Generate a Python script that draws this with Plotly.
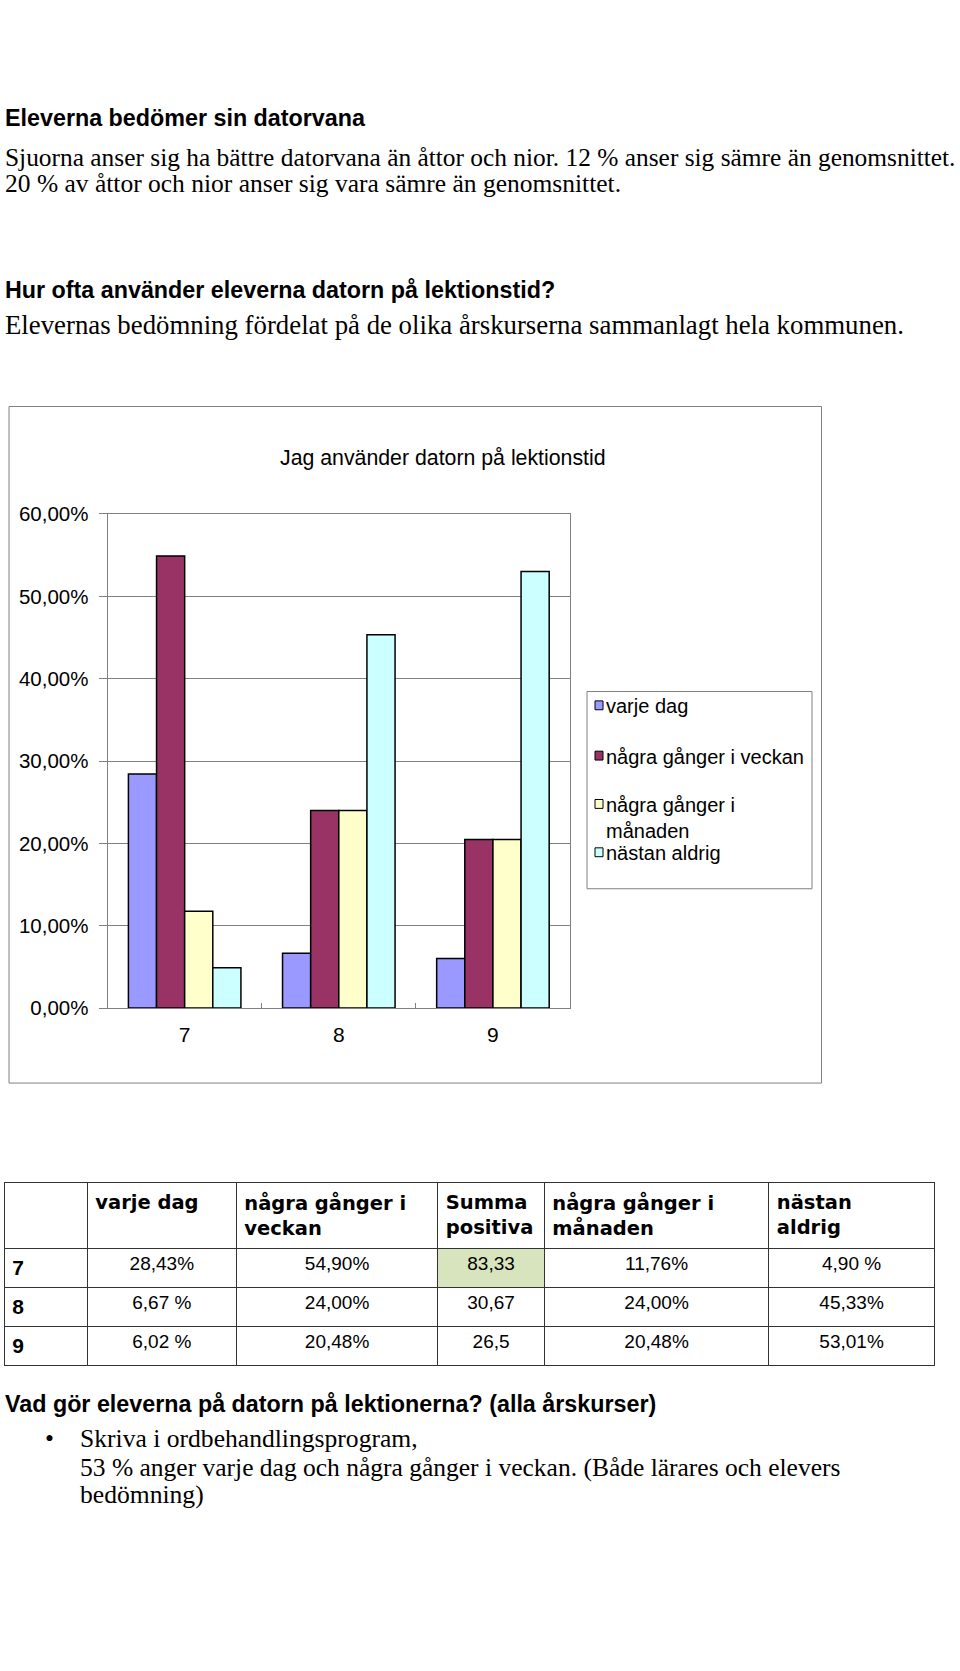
#---------------------------------------------------------------------
# Jag använder datorn på lektionstid
#---------------------------------------------------------------------

import plotly.graph_objects as go

#---------------------------------------------------------------------
# Data
#---------------------------------------------------------------------

arskurs = ['7', '8', '9']
serier = ['varje dag', 'några gånger i veckan', 'några gånger i månaden', 'nästan aldrig']
varje_dag = [28.43, 6.67, 6.02]
ganger_veckan = [54.90, 24.00, 20.48]
ganger_manaden = [11.76, 24.00, 20.48]
nastan_aldrig = [4.90, 45.33, 53.01]
y_ticks = [0, 10, 20, 30, 40, 50, 60]
y_ticktext = [f'{v:.2f}'.replace('.', ',') + '%' for v in y_ticks]

legend_text = ['varje dag', 'några gånger i veckan', 'några gånger i<br>månaden', 'nästan aldrig']

tabell_rubriker = ['', '<br>varje dag', 'några gånger i<br>veckan', 'Summa<br>positiva',
                   'några gånger i<br>månaden', 'nästan<br>aldrig']
kol_arskurs = ['<b>7</b>', '<b>8</b>', '<b>9</b>']
kol_varje_dag = ['28,43%', '6,67 %', '6,02 %']
kol_veckan = ['54,90%', '24,00%', '20,48%']
kol_summa = ['83,33', '30,67', '26,5']
kol_manaden = ['11,76%', '24,00%', '20,48%']
kol_aldrig = ['4,90 %', '45,33%', '53,01%']

#---------------------------------------------------------------------
# Layout helpers (pixel -> paper)
#---------------------------------------------------------------------

W, H = 960, 1671
SANS = 'Liberation Sans'
SERIF = 'Liberation Serif'
GRAY = '#808080'

def px(x):
    return x / W

def py(y):
    return 1 - y / H

farger = ['#9999FF', '#993366', '#FFFFCC', '#CCFFFF']

#---------------------------------------------------------------------
# Figur
#---------------------------------------------------------------------

fig = go.Figure()

for namn, varden, farg in zip(serier, [varje_dag, ganger_veckan, ganger_manaden, nastan_aldrig], farger):
    fig.add_trace(go.Bar(
        x=arskurs, y=varden, name=namn,
        marker=dict(color=farg, line=dict(color='black', width=1.5)),
        showlegend=False
    ))

fig.add_trace(go.Table(
    domain=dict(x=[px(4.3), px(934.5)], y=[py(1375), py(1187)]),
    columnwidth=[83, 149, 201.5, 106.5, 224.5, 165.5],
    header=dict(
        values=tabell_rubriker,
        align='left', height=61,
        fill=dict(color='white'),
        line=dict(color='#333333', width=1),
        font=dict(family='DejaVu Sans', size=19.5, color='black', weight='bold')
    ),
    cells=dict(
        values=[kol_arskurs, kol_varje_dag, kol_veckan, kol_summa, kol_manaden, kol_aldrig],
        align=['left', 'center', 'center', 'center', 'center', 'center'],
        height=31,
        fill=dict(color=[['white'] * 3, ['white'] * 3, ['white'] * 3,
                         ['#D7E4BD', 'white', 'white'], ['white'] * 3, ['white'] * 3]),
        line=dict(color='#333333', width=1),
        font=dict(family=SANS, size=[21, 19, 19, 19, 19, 19], color='black')
    )
))

fig.update_layout(
    width=W, height=H,
    margin=dict(l=0, r=0, t=0, b=0),
    paper_bgcolor='white', plot_bgcolor='white',
    bargap=0.27, bargroupgap=0,
    barmode='group',
    xaxis=dict(
        domain=[px(107.6), px(570)],
        showline=True, linecolor=GRAY, mirror=True,
        ticks='inside', tickson='boundaries', ticklen=5, tickcolor=GRAY,
        ticklabelstandoff=8,
        tickfont=dict(family=SANS, size=21, color='black'),
        showgrid=False
    ),
    yaxis=dict(
        domain=[py(1010), py(509)],
        range=[0, 60], tickvals=y_ticks, ticktext=y_ticktext,
        showline=True, linecolor=GRAY, mirror=True,
        ticks='outside', ticklen=8, tickcolor=GRAY,
        ticklabelstandoff=6,
        gridcolor=GRAY, gridwidth=1, zeroline=False,
        tickfont=dict(family=SANS, size=20.5, color='black')
    )
)

# Diagramram
fig.add_shape(type='rect', xref='paper', yref='paper',
              x0=px(9), x1=px(821.5), y0=py(1086), y1=py(400),
              line=dict(color=GRAY, width=1))

fig.add_annotation(text='Jag använder datorn på lektionstid', x=px(443), y=py(438),
                   xref='paper', yref='paper', showarrow=False,
                   font=dict(family=SANS, size=21.3, color='black'))

# Teckenförklaring
fig.add_shape(type='rect', xref='paper', yref='paper',
              x0=px(587), x1=px(812), y0=py(889), y1=py(689),
              line=dict(color=GRAY, width=1))
legend_y = [703, 754, 803, 852]
for text, farg, y in zip(legend_text, farger, legend_y):
    fig.add_shape(type='rect', xref='paper', yref='paper',
                  x0=px(595), x1=px(603), y0=py(y + 4.5), y1=py(y - 4.5),
                  fillcolor=farg, line=dict(color='black', width=1))
    fig.add_annotation(text=text, x=px(604), y=py(y - 12), xref='paper', yref='paper',
                       xanchor='left', yanchor='top', align='left', showarrow=False,
                       font=dict(family=SANS, size=20, color='black'))

# Brödtext
texter = [
    ('<b>Eleverna bedömer sin datorvana</b>', 3, 107.5, SANS, 23.3),
    ('Sjuorna anser sig ha bättre datorvana än åttor och nior. 12 % anser sig sämre än genomsnittet.', 3, 147, SERIF, 25.4),
    ('20 % av åttor och nior anser sig vara sämre än genomsnittet.', 3, 174, SERIF, 25.5),
    ('<b>Hur ofta använder eleverna datorn på lektionstid?</b>', 3, 282, SANS, 23.3),
    ('Elevernas bedömning fördelat på de olika årskurserna sammanlagt hela kommunen.', 3, 317, SERIF, 26.8),
    ('<b>Vad gör eleverna på datorn på lektionerna? (alla årskurser)</b>', 3, 1411, SANS, 23.3),
    ('•', 43, 1446, SERIF, 25.5),
    ('Skriva i ordbehandlingsprogram,', 78, 1446, SERIF, 25.6),
    ('53 % anger varje dag och några gånger i veckan. (Både lärares och elevers', 78, 1476, SERIF, 25.5),
    ('bedömning)', 78, 1503, SERIF, 25.6),
]
for text, x, y, familj, storlek in texter:
    fig.add_annotation(text=text, x=px(x), y=py(y), xref='paper', yref='paper',
                       xanchor='left', yanchor='middle', showarrow=False,
                       font=dict(family=familj, size=storlek, color='black'))

fig.write_html('out.html', config={'displayModeBar': False},
               post_script="document.body.style.margin = '0';")
